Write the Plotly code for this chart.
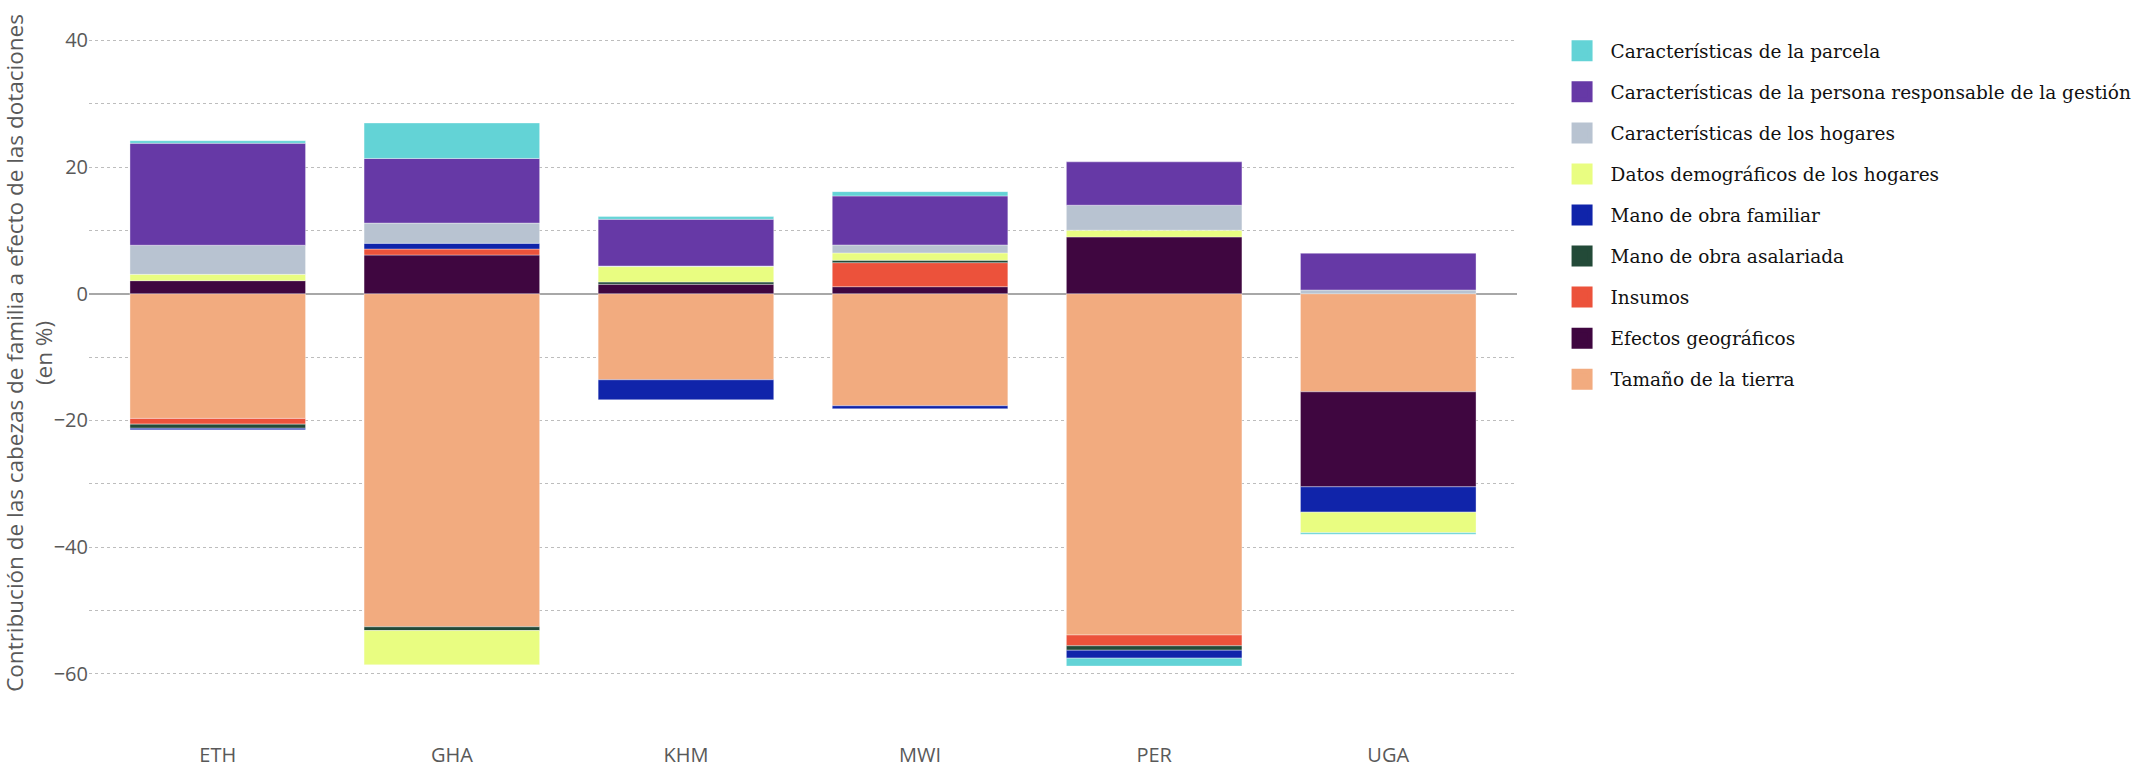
import plotly.graph_objects as go

categories = ["ETH", "GHA", "KHM", "MWI", "PER", "UGA"]

# series (stacking order from zero outwards)
tamano_tierra = [-19.7, -52.6, -13.6, -17.7, -53.9, -15.5]
efectos_geograficos = [2.05, 6.1, 1.48, 1.1, 8.96, -15.0]
insumos = [-0.9, 0.95, None, 3.8, -1.7, None]
mano_asalariada = [-0.65, -0.6, 0.37, 0.37, -0.7, None]
mano_familiar = [-0.25, 0.9, -3.15, -0.47, -1.25, -4.0]
datos_demograficos = [1.0, -5.4, 2.42, 1.16, 1.06, -3.25]
caract_hogares = [4.6, 3.2, 0.1, 1.26, 3.95, 0.58]
caract_persona = [16.1, 10.2, 7.37, 7.74, 6.84, 5.8]
caract_parcela = [0.4, 5.6, 0.43, 0.68, -1.25, -0.25]

series_names = [
    "Tamaño de la tierra",
    "Efectos geográficos",
    "Insumos",
    "Mano de obra asalariada",
    "Mano de obra familiar",
    "Datos demográficos de los hogares",
    "Características de los hogares",
    "Características de la persona responsable de la gestión",
    "Características de la parcela",
]
series_values = [
    tamano_tierra, efectos_geograficos, insumos, mano_asalariada, mano_familiar,
    datos_demograficos, caract_hogares, caract_persona, caract_parcela,
]
series_colors = [
    "#F2AB7F", "#3F0640", "#EC523B", "#234A38", "#1024AA",
    "#E9FD81", "#B8C3D1", "#6639A6", "#63D3D6",
]

y_title = "Contribución de las cabezas de familia a efecto de las dotaciones<br>(en %)"

fig = go.Figure()
n = len(series_names)

for i, (name, vals, col) in enumerate(zip(series_names, series_values, series_colors)):
    fig.add_trace(go.Bar(
        x=categories, y=vals, name=name, legendgroup=name, showlegend=False,
        legendrank=1000 + (n - i),
        marker=dict(color=col, line=dict(color="rgba(255,255,255,0.6)", width=0.6)),
    ))

# legend entries (larger square swatches), top entry = last stacked series
for i, (name, col) in enumerate(zip(series_names, series_colors)):
    fig.add_trace(go.Scatter(
        x=[None], y=[None], mode="markers", name=name, legendgroup=name,
        legendrank=1000 + (n - i),
        marker=dict(symbol="square", size=16, color=col, line=dict(color=col, width=5)),
        hoverinfo="skip",
    ))

axis_font = dict(family="Open Sans", size=20, color="#595959")

fig.update_layout(
    width=2139, height=769,
    barmode="relative", bargap=0.25,
    plot_bgcolor="white", paper_bgcolor="white",
    margin=dict(l=89, r=622, t=15, b=32, autoexpand=False),
    font=dict(family="Open Sans", size=20, color="#595959"),
    xaxis=dict(
        type="category", range=[-0.55, 5.55], showgrid=False, showline=False,
        zeroline=False, tickfont=axis_font, ticks="", ticklabelstandoff=4,
    ),
    yaxis=dict(
        range=[-70, 44], dtick=20, tick0=0, tickfont=axis_font,
        showgrid=True, gridcolor="#bdbdbd", griddash="dot", gridwidth=1,
        zeroline=True, zerolinecolor="#a8a8a8", zerolinewidth=1.5,
        showline=False, ticks="",
        minor=dict(dtick=10, tick0=0, showgrid=True, gridcolor="#bdbdbd",
                   griddash="dot", gridwidth=1),
    ),
    legend=dict(
        xref="container", yref="container", x=0.7263, y=0.958,
        xanchor="left", yanchor="top",
        traceorder="grouped", tracegroupgap=14,
        font=dict(family="DejaVu Serif", size=18.5, color="#111111"),
        itemwidth=47, bgcolor="rgba(0,0,0,0)",
    ),
    annotations=[dict(
        text=y_title, xref="paper", yref="paper", x=-0.0422, y=0.5317,
        xanchor="center", yanchor="middle", textangle=-90, showarrow=False,
        font=dict(family="Open Sans", size=22.5, color="#595959"),
    )],
)

fig.write_html(
    "out.html",
    config={"displayModeBar": False},
    post_script="document.body.style.margin='0px';document.body.style.overflow='hidden';",
)
